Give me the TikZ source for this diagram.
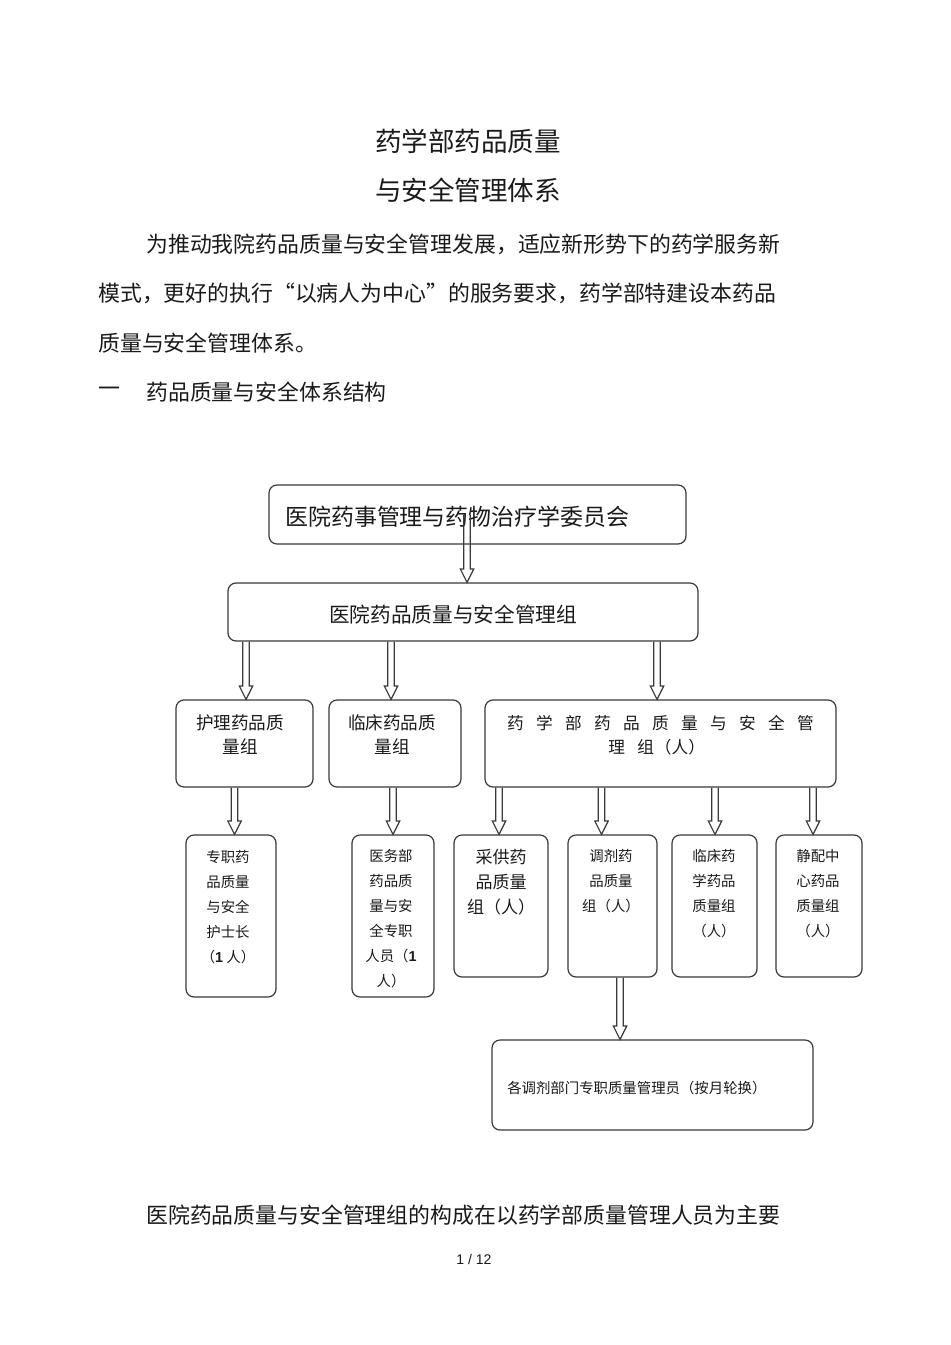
\documentclass[tikz,border=0pt]{standalone}
\usepackage{fontspec}
\setmainfont{Noto Sans CJK SC}
\newfontfamily\lsans{Liberation Sans}
\usetikzlibrary{fit,calc}
\definecolor{linec}{HTML}{3A3A3A}
\definecolor{txtc}{HTML}{1A1A1A}
\newcommand\fz[2]{\fontsize{#1pt}{#2pt}\selectfont}
\newcommand\spc[1]{\makebox[21.75pt]{#1}}
\tikzset{
  box/.style={draw=linec, line width=0.9pt, rounded corners=6pt, inner sep=0pt},
  arrline/.style={draw=linec, line width=0.9pt, line join=miter},
  txt/.style={inner sep=0pt, text=txtc}}
\newcommand\harr[3]{%
  \draw[arrline] let \p1=(#2), \p2=(#3), \p3=(#1,0) in
  (\x3-2.5pt,\y1) -- (\x3-2.5pt,\y2+10pt) -- (\x3-5pt,\y2+10pt) -- (\x3,\y2)
  -- (\x3+5pt,\y2+10pt) -- (\x3+2.5pt,\y2+10pt) -- (\x3+2.5pt,\y1);}
\begin{document}
\begin{tikzpicture}[x=0.75pt,y=-0.75pt]
\useasboundingbox[fill=white] (0,0) rectangle (950,1345);

% heading texts
\node[txt, font=\fz{19.9}{24}] (t1) at (468,141) {药学部药品质量};
\node[txt, font=\fz{19.9}{24}] (t2) at (468,190) {与安全管理体系};
\node[txt, anchor=west, font=\fz{16.4}{20}] (p1) at (146,244) {为推动我院药品质量与安全管理发展，适应新形势下的药学服务新};
\node[txt, anchor=west, font=\fz{16.4}{20}\addfontfeature{CharacterWidth=Full}] (p2) at (98,293) {模式，更好的执行“以病人为中心”的服务要求，药学部特建设本药品};
\node[txt, anchor=west, font=\fz{16.4}{20}] (p3) at (98,343) {质量与安全管理体系。};
\node[txt, anchor=west, font=\fz{16.4}{20}] (h0) at (98,392) {一};
\node[txt, anchor=west, font=\fz{16.4}{20}] (h1) at (146,392) {药品质量与安全体系结构};
\node[txt, anchor=west, font=\fz{16.4}{20}] (p4) at (146,1215) {医院药品质量与安全管理组的构成在以药学部质量管理人员为主要};
\node[txt, font=\lsans\fz{10.5}{12}] (pg) at (474,1259) {1 / 12};

% boxes
\node[box, fit={(269,485) (686,544)}] (A) {};
\node[box, fit={(228,583) (698,641)}] (B) {};
\node[box, fit={(176,700) (313,787)}] (C) {};
\node[box, fit={(329,700) (461,787)}] (D) {};
\node[box, fit={(485,700) (836,787)}] (E) {};
\node[box, fit={(186,835) (276,997)}] (F) {};
\node[box, fit={(352,835) (434,997)}] (G) {};
\node[box, fit={(454,835) (548,977)}] (H) {};
\node[box, fit={(568,835) (657,977)}] (I) {};
\node[box, fit={(672,835) (757,977)}] (J) {};
\node[box, fit={(776,835) (862,977)}] (K) {};
\node[box, fit={(492,1040) (813,1130)}] (L) {};

% box texts
\node[txt, anchor=west, font=\fz{17.2}{20}] (tA) at (285,517) {医院药事管理与药物治疗学委员会};
\node[txt, font=\fz{15.5}{20}] (tB) at (453,615) {医院药品质量与安全管理组};
\node[txt, anchor=north, align=center, font=\fz{13.2}{18}] (tC) at (240,714) {护理药品质\\量组};
\node[txt, anchor=north, align=center, font=\fz{13.2}{18}] (tD) at (392,714) {临床药品质\\量组};
\node[txt, font=\fz{12.5}{18}] (tE1) at (660.5,723) {\spc{药}\spc{学}\spc{部}\spc{药}\spc{品}\spc{质}\spc{量}\spc{与}\spc{安}\spc{全}\spc{管}};
\node[txt, anchor=west, font=\fz{12.5}{18}] (tE2) at (602,747) {\spc{理}\spc{组}\hspace{-4pt}（人）};
\node[txt, anchor=north, align=center, font=\fz{10.8}{18.75}] (tF) at (228,850) {专职药\\品质量\\与安全\\护士长\\（{\lsans\bfseries 1} 人）};
\node[txt, anchor=north, align=center, font=\fz{10.8}{18.75}] (tG) at (391,849.5) {医务部\\药品质\\量与安\\全专职\\人员（{\lsans\bfseries 1}\\人）};
\node[txt, anchor=north, align=center, font=\fz{12.75}{18.75}] (tH) at (501,849) {采供药\\品质量\\组（人）};
\node[txt, anchor=north, align=center, font=\fz{10.8}{18.75}] (tI) at (611,849.5) {调剂药\\品质量\\组（人）};
\node[txt, anchor=north, align=center, font=\fz{10.8}{18.75}] (tJ) at (714,849.5) {临床药\\学药品\\质量组\\（人）};
\node[txt, anchor=north, align=center, font=\fz{10.8}{18.75}] (tK) at (818,849.5) {静配中\\心药品\\质量组\\（人）};
\node[txt, anchor=west, font=\fz{10.8}{14}] (tL) at (507,1088) {各调剂部门专职质量管理员（按月轮换）};

% arrows
\harr{467}{A.center}{B.north}
\harr{246}{B.south}{C.north}
\harr{391}{B.south}{D.north}
\harr{657}{B.south}{E.north}
\harr{234.5}{C.south}{F.north}
\harr{393}{D.south}{G.north}
\harr{499}{E.south}{H.north}
\harr{601.5}{E.south}{I.north}
\harr{715}{E.south}{J.north}
\harr{813}{E.south}{K.north}
\harr{620}{I.south}{L.north}
\end{tikzpicture}
\end{document}
